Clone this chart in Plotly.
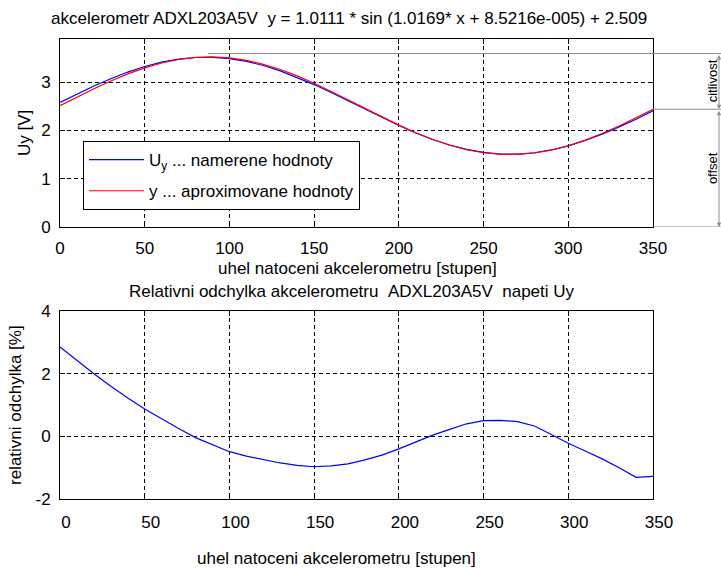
import plotly.graph_objects as go

# ---------------- data ----------------
angle = [0, 10, 20, 30, 40, 50, 60, 70, 80, 90, 100, 110, 120, 130, 140, 150, 160, 170,
         180, 190, 200, 210, 220, 230, 240, 250, 260, 270, 280, 290, 300, 310, 320, 330, 340, 350]

uy_measured = [2.579, 2.753, 2.916, 3.069, 3.206, 3.321, 3.413, 3.475, 3.507, 3.511, 3.483, 3.426,
               3.342, 3.231, 3.097, 2.947, 2.784, 2.612, 2.437, 2.265, 2.100, 1.946, 1.811, 1.696,
               1.606, 1.544, 1.511, 1.508, 1.536, 1.594, 1.678, 1.789, 1.921, 2.071, 2.230, 2.406]

y_fit = [2.509, 2.688, 2.860, 3.022, 3.168, 3.293, 3.394, 3.466, 3.509, 3.520, 3.499, 3.447,
         3.366, 3.258, 3.126, 2.975, 2.810, 2.634, 2.455, 2.278, 2.108, 1.950, 1.810, 1.692,
         1.600, 1.536, 1.503, 1.501, 1.531, 1.592, 1.681, 1.797, 1.935, 2.091, 2.260, 2.437]

rel_dev = [2.85, 2.42, 2.00, 1.60, 1.22, 0.87, 0.55, 0.25, -0.04, -0.27, -0.49, -0.63,
           -0.75, -0.85, -0.93, -0.97, -0.94, -0.88, -0.75, -0.60, -0.40, -0.18, 0.04, 0.22,
           0.40, 0.50, 0.51, 0.47, 0.33, 0.06, -0.22, -0.47, -0.72, -1.00, -1.31, -1.28]

x_ticks = [0, 50, 100, 150, 200, 250, 300, 350]
y1_ticks = [0, 1, 2, 3]
y2_ticks = [-2, 0, 2, 4]
y2_ticktext = ["-2", "0", "2", "4"]

top_title = "akcelerometr ADXL203A5V \u00a0y = 1.0111 * sin (1.0169* x + 8.5216e-005) + 2.509"
bottom_title = "Relativni odchylka akcelerometru \u00a0ADXL203A5V \u00a0napeti Uy"
x_label = "uhel natoceni akcelerometru [stupen]"
y1_label = "Uy [V]"
y2_label = "relativni odchylka [%]"
legend_names = ["U<sub>y</sub> ... namerene hodnoty", "y ... aproximovane hodnoty"]

# sensitivity / offset marker levels (Uy)
level_top = 3.59
level_end = y_fit[-1]
level_zero = 0.0

FONT = "Liberation Sans, Arial, sans-serif"
GRAY = "#8f8f8f"

fig = go.Figure()
fig.add_trace(go.Scatter(x=angle, y=uy_measured, mode="lines", name=legend_names[0],
                         line=dict(color="#0000ff", width=1.2), xaxis="x", yaxis="y",
                         legendgroup="a"))
fig.add_trace(go.Scatter(x=angle, y=y_fit, mode="lines", name=legend_names[1],
                         line=dict(color="#ff0000", width=1.2), xaxis="x", yaxis="y",
                         legendgroup="b"))
fig.add_trace(go.Scatter(x=angle, y=rel_dev, mode="lines", showlegend=False,
                         line=dict(color="#0000ff", width=1.2), xaxis="x2", yaxis="y2"))

axis_common = dict(showline=True, linecolor="black", linewidth=1, mirror="ticks",
                   ticks="inside", ticklen=5, tickcolor="black", tickwidth=1,
                   showgrid=True, gridcolor="black", gridwidth=1, griddash="4px,3px",
                   zeroline=False, tickfont=dict(family=FONT, size=17, color="black"))

fig.update_layout(
    width=721, height=574,
    margin=dict(l=60, r=68, t=39, b=75),
    paper_bgcolor="white", plot_bgcolor="white",
    font=dict(family=FONT, size=17, color="black"),
    xaxis=dict(domain=[0, 1], range=[0, 350], tickvals=x_ticks, anchor="y",
               ticklabelstandoff=6, **axis_common),
    yaxis=dict(domain=[0.5913, 1], range=[0, 3.89], tickvals=y1_ticks, anchor="x",
               ticklabelstandoff=5, **axis_common),
    xaxis2=dict(domain=[0, 1], range=[0, 350], tickvals=x_ticks, anchor="y2",
                ticklabelstandoff=8, ticklabelshift=6, **axis_common),
    yaxis2=dict(domain=[0, 0.4087], range=[-2, 4], tickvals=y2_ticks, ticktext=y2_ticktext,
                anchor="x2", ticklabelstandoff=5, **axis_common),
    legend=dict(x=0.0388, y=0.778, xanchor="left", yanchor="top",
                bordercolor="black", borderwidth=1, bgcolor="white",
                font=dict(family=FONT, size=17, color="black"),
                traceorder="grouped", tracegroupgap=6, itemwidth=55),
    showlegend=True,
)

ann = []
def text(t, x, y, size=17, angle=0, xanchor="center"):
    ann.append(dict(text=t, x=x, y=y, xref="paper", yref="paper", showarrow=False,
                    xanchor=xanchor, yanchor="middle", textangle=angle,
                    font=dict(family=FONT, size=size, color="black")))

text(top_title, 0.487, 1.0435)
text(x_label, 0.501, 0.502)
text(bottom_title, 0.492, 0.452)
text(x_label, 0.467, -0.1304)
text(y1_label, -0.059, 0.7957, angle=-90)
text(y2_label, -0.0759, 0.2043, angle=-90)

# side labels
for t, yv in [("citlivost", (level_top + level_end) / 2), ("offset", (level_end + level_zero) / 2)]:
    ann.append(dict(text=t, x=1.0995, y=yv, xref="paper", yref="y", showarrow=False,
                    textangle=-90, xanchor="center", yanchor="middle",
                    font=dict(family=FONT, size=13, color="black")))

# double-headed arrows
for a, b in [(level_top, level_end), (level_end, level_zero)]:
    ann.append(dict(text="", x=1.1113, y=b, ax=0, ay=a, xref="paper", yref="y",
                    axref="pixel", ayref="y", showarrow=True, arrowhead=2, startarrowhead=2,
                    arrowside="end+start", arrowsize=0.9, arrowwidth=1, arrowcolor=GRAY,
                    standoff=0, startstandoff=0))
fig.update_layout(annotations=ann)

shapes = [
    dict(type="line", xref="paper", yref="y", x0=0.2496, x1=1.1147, y0=level_top, y1=level_top,
         line=dict(color=GRAY, width=1)),
    dict(type="line", xref="paper", yref="y", x0=1.0, x1=1.1147, y0=level_end, y1=level_end,
         line=dict(color=GRAY, width=1)),
    dict(type="line", xref="paper", yref="y", x0=1.0, x1=1.1147, y0=level_zero, y1=level_zero,
         line=dict(color=GRAY, width=1)),
]
fig.update_layout(shapes=shapes)

fig.write_html("out.html")
